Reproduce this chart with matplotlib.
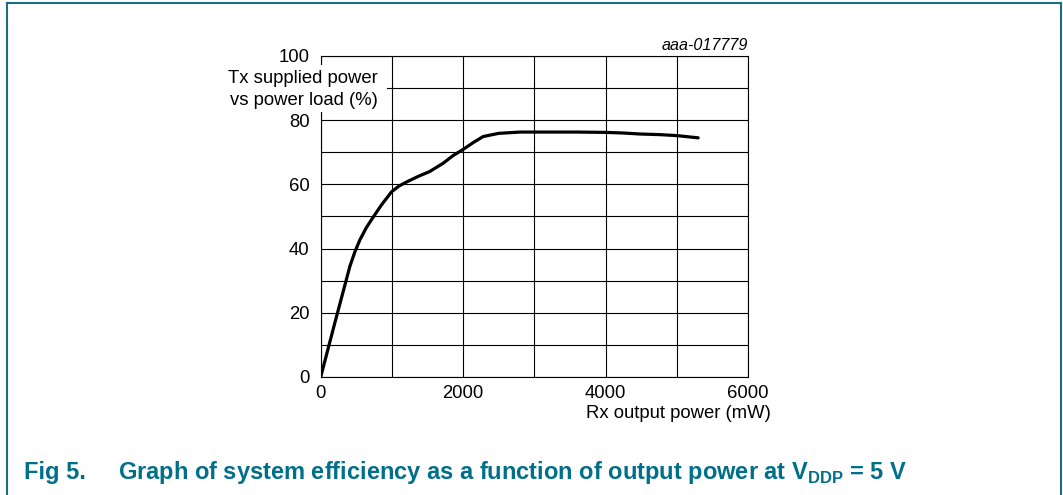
import matplotlib.pyplot as plt
from matplotlib.lines import Line2D
from matplotlib.patches import Rectangle

plt.rcParams['font.family'] = ['Liberation Sans', 'DejaVu Sans']
plt.rcParams['mathtext.fontset'] = 'custom'
plt.rcParams['mathtext.rm'] = 'Liberation Sans'
plt.rcParams['mathtext.bf'] = 'Liberation Sans:bold'

# Rx output power (mW) vs Tx supplied power / power load (%)
rx_power = [0, 200, 410, 480, 550, 640, 740, 850, 995, 1100, 1210, 1370, 1530, 1720, 1860,
            2000, 2140, 2280, 2500, 2800, 3200, 3600, 4000, 4250, 4480, 4760, 5000, 5300]
efficiency = [0, 17, 34.5, 39, 42.7, 46.5, 49.9, 53.5, 57.7, 59.5, 60.8, 62.5, 64, 66.6, 69,
              70.9, 73, 74.9, 75.9, 76.3, 76.3, 76.3, 76.2, 76, 75.7, 75.5, 75.2, 74.5]

x_ticks = [0, 2000, 4000, 6000]
y_ticks = [0, 20, 40, 60, 80, 100]

teal = '#1a6e80'
caption_col = '#00708a'
W, H = 1063, 495


def fx(px):
    return px / W


def fy(py):
    return 1 - py / H


fig = plt.figure(figsize=(10.63, 4.95), dpi=100)
ax = fig.add_axes([0.3017, 0.2384, 0.402, 0.6485])

ax.plot(rx_power, efficiency, color='black', lw=2.3, solid_capstyle='round',
        solid_joinstyle='round', zorder=3)

ax.set_xlim(0, 6000)
ax.set_ylim(0, 100)
ax.set_xticks(range(0, 6001, 1000), minor=True)
ax.set_yticks(range(0, 101, 10), minor=True)
ax.set_xticks(x_ticks)
ax.set_yticks(y_ticks)
ax.grid(True, which='both', color='black', lw=0.8)
ax.tick_params(which='both', length=0, labelsize=13.3)
ax.tick_params(axis='y', pad=8)
ax.tick_params(axis='x', pad=6)
for s in ax.spines.values():
    s.set_linewidth(0.8)

# white box behind the y label, hiding grid and spine
fig.add_artist(Rectangle((fx(225), fy(112)), fx(387) - fx(225), fy(65) - fy(112),
                         transform=fig.transFigure, facecolor='white',
                         edgecolor='none', zorder=4))
fig.text(fx(378), fy(89.5), 'Tx supplied power\nvs power load (%)', fontsize=13.3,
         ha='right', va='center', linespacing=1.45, zorder=5)

fig.text(fx(748), fy(45), 'aaa-017779', ha='right', va='center',
         fontsize=11.6, style='italic')
fig.text(fx(771), fy(413), 'Rx output power (mW)', ha='right', va='center',
         fontsize=13.3)

# outer frame
fig.add_artist(Line2D([fx(7), fx(7)], [0, fy(3)], color=teal, lw=1.5))
fig.add_artist(Line2D([fx(7), fx(1061)], [fy(3), fy(3)], color=teal, lw=1.5))
fig.add_artist(Line2D([fx(1061), fx(1061)], [0, fy(3)], color=teal, lw=1.5))

fig.text(fx(24), fy(472), 'Fig 5.', color=caption_col, fontsize=17,
         fontweight='bold', va='center')
fig.text(fx(118), fy(472),
         r'Graph of system efficiency as a function of output power at V$_{\mathbf{DDP}}$ = 5 V',
         color=caption_col, fontsize=17, fontweight='bold', va='center')

fig.savefig('out.png', dpi=100, facecolor='white')
